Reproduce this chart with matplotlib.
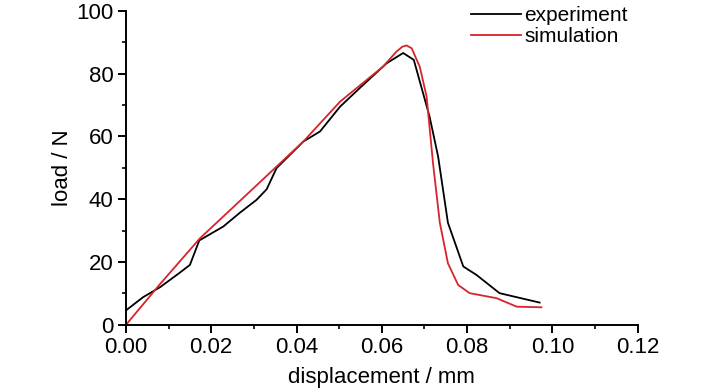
import numpy as np
import matplotlib.pyplot as plt
from matplotlib.ticker import MultipleLocator

# -----------------------------
# Données
# -----------------------------
exp_x = [0.0, 0.004, 0.008, 0.0125, 0.015, 0.0172, 0.0228, 0.0267, 0.0306, 0.033,
         0.0353, 0.0416, 0.0455, 0.0502, 0.0548, 0.0611, 0.065, 0.0675, 0.0712,
         0.0732, 0.0755, 0.0791, 0.0822, 0.0876, 0.097]
exp_y = [4.6, 8.8, 12.0, 16.5, 19.1, 26.9, 31.3, 35.7, 39.8, 43.2,
         49.9, 58.4, 61.6, 69.5, 75.4, 83.3, 86.6, 84.4, 66.3,
         53.6, 32.5, 18.6, 15.9, 10.1, 7.1]

sim_x = [0.0, 0.008, 0.0173, 0.0291, 0.0353, 0.0416, 0.0502, 0.0603, 0.0634,
         0.0648, 0.0658, 0.067, 0.0689, 0.0705, 0.072, 0.0736, 0.0755, 0.0779,
         0.0806, 0.0869, 0.0916, 0.0974]
sim_y = [0.0, 13.0, 27.5, 42.5, 50.4, 58.4, 71.1, 82.3, 87.0,
         88.6, 89.0, 88.1, 82.2, 72.7, 51.5, 32.5, 19.6, 12.7,
         10.1, 8.5, 5.8, 5.6]

plt.rcParams['font.family'] = ['Liberation Sans Narrow', 'Liberation Sans', 'DejaVu Sans']

fig = plt.figure(figsize=(7.28, 3.9), dpi=100)
ax = fig.add_axes([0.173, 0.167, 0.703, 0.805])

ax.plot(exp_x, exp_y, color='black', lw=1.3, label='experiment')
ax.plot(sim_x, sim_y, color='#d8232a', lw=1.3, label='simulation')

ax.set_xlim(0, 0.12)
ax.set_ylim(0, 100)
ax.xaxis.set_major_locator(MultipleLocator(0.02))
ax.xaxis.set_minor_locator(MultipleLocator(0.01))
ax.yaxis.set_major_locator(MultipleLocator(20))
ax.yaxis.set_minor_locator(MultipleLocator(10))
ax.xaxis.set_major_formatter(plt.FuncFormatter(lambda v, p: f"{v:.2f}"))

for s in ['top', 'right']:
    ax.spines[s].set_visible(False)
for s in ['left', 'bottom']:
    ax.spines[s].set_linewidth(1.4)
ax.tick_params(which='major', direction='out', length=6, width=1.4, labelsize=16, pad=3)
ax.tick_params(which='minor', direction='out', length=3, width=1.2)

ax.set_xlabel("displacement / mm", fontsize=16, labelpad=6)
ax.set_ylabel("load / N", fontsize=16, labelpad=2)

ax.legend(loc='upper left', bbox_to_anchor=(0.644, 0.99), bbox_transform=fig.transFigure,
          frameon=False, fontsize=15, handlelength=2.4, handletextpad=0.15,
          labelspacing=0.12, borderaxespad=0, borderpad=0.1)

fig.savefig("out.png", dpi=100)
